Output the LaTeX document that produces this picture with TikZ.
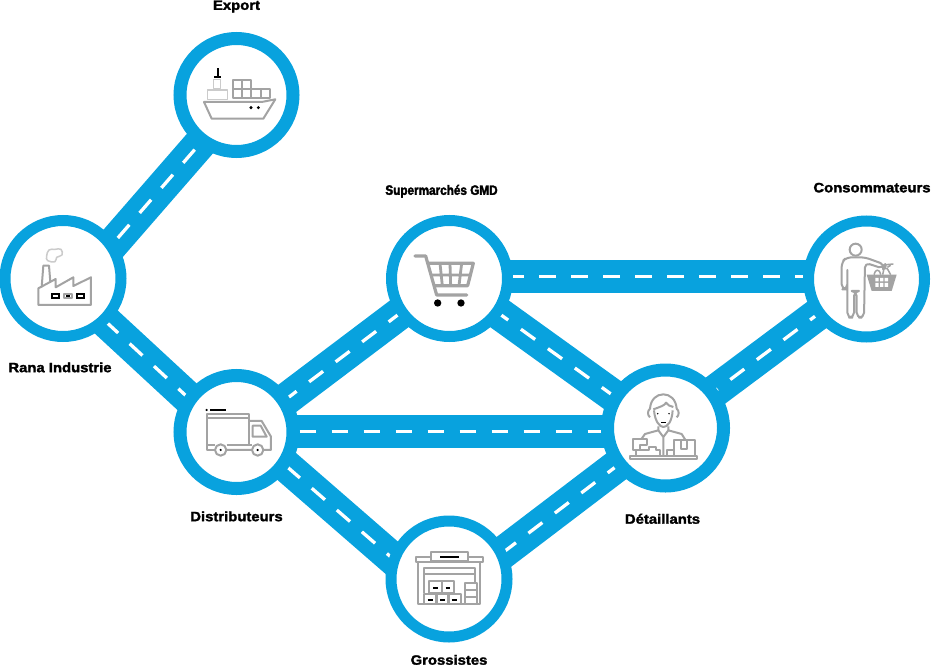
\documentclass[tikz,border=0pt]{standalone}
\usepackage{fontspec}
\usepackage{xcolor}
\usepackage{tikz}
\usetikzlibrary{positioning,calc,backgrounds}
\newfontfamily\lblfont{Liberation Sans}[FakeStretch=1.1,BoldFeatures={FakeBold=2}]
\newfontfamily\lblfontn{Liberation Sans}[FakeStretch=.87,BoldFeatures={FakeBold=2.4}]
\definecolor{roadcol}{HTML}{08A2DE}
\definecolor{iconcol}{HTML}{A3A3A3}
\definecolor{palecol}{HTML}{CBCBCB}

\begin{document}
\begin{tikzpicture}[x=1pt,y=-1pt,
   font=\lblfont\bfseries\fontsize{13.5}{15}\selectfont,
   hub/.style={circle,draw=roadcol,fill=white,line width=11pt,minimum size=116pt,inner sep=0pt},
   widehub/.style={hub,line width=13pt,minimum size=113pt},
   lbl/.style={inner sep=0pt,text height=10pt,text depth=0pt,black},
   road/.style={draw=roadcol,line width=32.5pt,
              postaction={draw=white,line width=3.3pt,dash pattern=on 17.5pt off 15.7pt,dash phase=#1}},
   hroad/.style={draw=roadcol,line width=32.5pt,
              postaction={draw=white,line width=3.3pt,dash pattern=on 16.3pt off 15.7pt,dash phase=#1}},
   icon/.style={draw=iconcol,line width=2pt,line join=round},
   accent/.style={draw=black,line width=1.7pt},
   zoomed/.style 2 args={shift={(#1,#2)},x=.3333pt,y=-.3333pt},
]
\useasboundingbox (0,0) rectangle (931,666);

% hubs
\node[widehub] (export)  at (236.5,95) {};
\node[hub]     (rana)    at (63,278.5) {};
\node[widehub] (distrib) at (236.5,432) {};
\node[hub]     (super)   at (449.5,278.5) {};
\node[hub]     (conso)   at (866.5,279) {};
\node[widehub,minimum size=116pt] (detail) at (665.5,428) {};
\node[hub]     (gross)   at (449,579) {};

% labels
\node[lbl,above=22pt of export]               (lexport)  {Export};
\node[lbl,below=20pt of rana,xshift=-3pt]     (lrana)    {Rana Industrie};
\node[lbl,below=16pt of distrib]              (ldistrib) {Distributeurs};
\node[lbl,above=20pt of super,xshift=-8pt,
      font=\lblfontn\bfseries\fontsize{13.5}{15}\selectfont] (lsuper) {Supermarchés GMD};
\node[lbl,above=23pt of conso,xshift=5.5pt]   (lconso)   {Consommateurs};
\node[lbl,below=21pt of detail,xshift=-3pt]   (ldetail)  {Détaillants};
\node[lbl,below=12pt of gross]                (lgross)   {Grossistes};

% roads, under the hubs
\begin{scope}[on background layer]
\draw[road=16.05] ($(rana)+(0,22.5)$) -- ($(export)+(.5,6)$);
\draw[road=8.85]  ($(rana)+(0,3.5)$) -- ($(distrib)+(-.5,10)$);
\draw[road=8]     ($(distrib)+(-.5,5)$) -- ($(super)+(-.5,-2.2)$);
\draw[road=32.45] ($(distrib)+(-.5,-9.6)$) -- ($(gross)+(0,28.5)$);
\draw[road=33]    ($(gross)+(0,14.6)$) -- ($(detail)+(2.5,-1)$);
\draw[road=11]    ($(super)+(-.5,-1)$) -- ($(detail)+(2.5,7)$);
\draw[road=21.95] ($(detail)+(2.5,-2)$) -- ($(conso)+(.5,-1.5)$);
\draw[hroad=5.7]  ($(super)+(-.5,-2)$) -- ($(conso)+(.5,-2.5)$);
\draw[hroad=.5]   ($(distrib)+(-.5,-.3)$) -- ($(detail)+(0,3.7)$);
\end{scope}

% ship
\begin{scope}[zoomed={170}{0}]
\draw[accent,line width=2pt] (143,205) -- (143,230);
\draw[accent,line width=2.6pt] (133,231) -- (153,231);
\draw[icon,palecol,line width=1.4pt] (131,238) rectangle (152,265);
\draw[icon,palecol,line width=1.4pt] (113,270) rectangle (172,298);
\draw[icon] (190,240) rectangle (243,295) (217,240) -- (217,295) (190,268) -- (243,268);
\draw[icon] (243,268) rectangle (299,295) (272,268) -- (272,295);
\draw[icon] (102,306) -- (275,306) -- (316,298) -- (280,356) -- (125,356) -- cycle;
\fill (243,323) circle[radius=5] (265,323) circle[radius=5];
\end{scope}

% factory
\begin{scope}[zoomed={0}{210}]
\draw[icon,palecol,line width=1.5pt] plot[smooth cycle,tension=.7] coordinates
   {(140,138) (147,120) (165,118) (183,118) (186,135) (170,142) (165,155) (143,152)};
\draw[icon] (125,232) -- (130,167) -- (147,167) -- (151,216);
\draw[icon] (115,285) -- (115,235) -- (167,207) -- (167,232) -- (220,202) -- (220,228)
   -- (273,202) -- (273,285) -- cycle;
\draw[accent] (155,252) rectangle (177,265) (230,252) rectangle (252,265);
\draw[icon] (192,252) rectangle (215,265);
\fill (197,256) rectangle (210,262);
\end{scope}

% truck
\begin{scope}[zoomed={170}{365}]
\fill (110,135) circle[radius=3.5];
\draw[accent] (120,135) -- (167,135);
\draw[icon] (135,255) -- (110,255) -- (110,148) -- (237,148) -- (237,240);
\draw[icon] (110,160) -- (237,160) (110,240) -- (135,240) (170,240) -- (247,240);
\draw[icon] (170,255) -- (247,255) (237,168) -- (275,168) -- (303,215) -- (303,255) -- (282,255);
\draw[icon] (248,182) -- (272,182) -- (290,215) -- (248,215) -- cycle;
\draw[icon,fill=white] (152,255) circle[radius=17] (263,255) circle[radius=17];
\fill (152,255) circle[radius=3.5] (263,255) circle[radius=3.5];
\end{scope}

% cart
\begin{scope}[zoomed={385}{215}]
\draw[icon,line width=3.2pt,line cap=round] (90,123) -- (122,123) -- (155,240) -- (245,240);
\draw[icon,line width=3.2pt] (127,145) -- (265,145) -- (248,212) -- (145,212);
\draw[icon,line width=2.8pt] (135,180) -- (258,180) (165,145) -- (172,212)
   (195,145) -- (197,212) (230,145) -- (222,212);
\fill (158,264) circle[radius=11] (228,264) circle[radius=11];
\end{scope}

% shopper
\begin{scope}[zoomed={800}{212}]
\draw[icon] (167,113) circle[radius=18];
\draw[icon,rounded corners=5pt] (125,232) -- (125,150) -- (140,136) -- (195,136) -- (255,158)
   -- (250,170) -- (195,152) -- (192,317) -- (170,317) -- (170,237) -- (162,237) -- (162,317)
   -- (142,317) -- (142,165) -- (142,232) -- cycle;
\fill[iconcol] (200,188) -- (290,188) -- (275,237) -- (215,237) -- cycle;
\fill[white] (226,198) rectangle (236,208) (240,198) rectangle (250,208) (254,198) rectangle (264,208)
   (226,213) rectangle (236,225) (240,213) rectangle (250,225) (254,213) rectangle (264,225);
\draw[icon,line width=1.5pt] (222,188) .. controls (225,172) and (238,168) .. (242,188);
\draw[icon,line width=1.5pt] (248,188) -- (252,170) -- (262,170) -- (272,188);
\draw[icon,line width=1.5pt] (256,170) -- (258,158) -- (280,156) (262,166) -- (272,160);
\end{scope}

% clerk
\begin{scope}[zoomed={610}{362}]
\draw[icon] (120,166) .. controls (112,160) and (112,146) .. (120,140)
   .. controls (122,112) and (140,97) .. (160,97)
   .. controls (180,97) and (198,112) .. (200,140)
   .. controls (208,146) and (208,160) .. (200,166);
\draw[icon] (130,142) .. controls (150,135) and (165,130) .. (168,122)
   .. controls (172,130) and (180,132) .. (190,135);
\draw[icon] (132,145) .. controls (135,180) and (150,195) .. (160,195)
   .. controls (172,195) and (186,180) .. (188,145);
\fill (143,155) circle[radius=2.5] (177,155) circle[radius=2.5];
\draw[accent,line width=1pt] (153,181) -- (167,181);
\draw[icon] (95,230) -- (105,216) -- (145,205) -- (145,193) (225,232) -- (215,216) -- (175,205) -- (175,193);
\draw[icon] (145,205) -- (160,225) -- (175,205) (160,225) -- (160,283);
\draw[icon] (60,283) rectangle (262,292);
\draw[icon] (68,232) -- (112,232) -- (112,250) -- (90,250) -- (90,265) -- (68,265) -- cycle;
\draw[icon] (78,265) -- (78,283) (90,265) -- (118,265) -- (118,255) -- (138,255) -- (138,265) -- (150,265) -- (150,283);
\draw[icon] (192,235) rectangle (255,283) (212,235) -- (212,260) -- (232,260) -- (232,235);
\draw[icon] (172,265) rectangle (192,283);
\end{scope}

% warehouse
\begin{scope}[zoomed={385}{515}]
\draw[icon] (92,125) rectangle (295,140);
\draw[icon,fill=white] (137,110) rectangle (250,137);
\draw[accent] (165,125) -- (222,125);
\draw[icon] (100,140) -- (100,268) -- (285,268) -- (285,140);
\draw[icon] (117,235) -- (117,160) -- (270,160) -- (270,205) (117,178) -- (270,178);
\draw[icon] (133,198) rectangle (170,235) (170,198) rectangle (208,235);
\draw[icon] (117,237) rectangle (152,268) (155,237) rectangle (190,268) (192,237) rectangle (228,268);
\draw[icon] (240,268) -- (240,205) -- (275,205) -- (275,268) (240,225) -- (275,225) (240,245) -- (275,245);
\draw[accent] (145,218) -- (160,218) (182,218) -- (195,218)
   (128,255) -- (143,255) (165,255) -- (180,255) (200,255) -- (215,255);
\end{scope}
\end{tikzpicture}
\end{document}
